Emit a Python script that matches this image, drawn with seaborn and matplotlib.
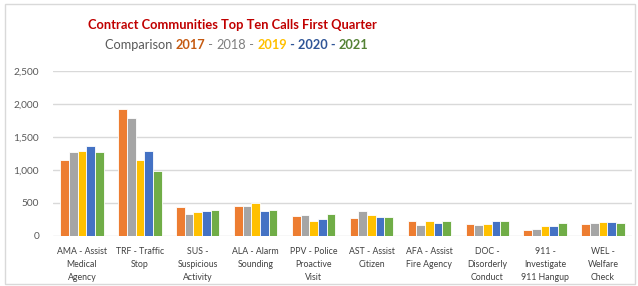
import pandas as pd
import seaborn as sns
import matplotlib.pyplot as plt
from matplotlib.patches import Rectangle

# calls per category
categories = ["AMA - Assist\nMedical\nAgency", "TRF - Traffic\nStop", "SUS -\nSuspicious\nActivity",
              "ALA - Alarm\nSounding", "PPV - Police\nProactive\nVisit", "AST - Assist\nCitizen",
              "AFA - Assist\nFire Agency", "DOC -\nDisorderly\nConduct", "911 -\nInvestigate\n911 Hangup",
              "WEL -\nWelfare\nCheck"]
years = ["2017", "2018", "2019", "2020", "2021"]
v2017 = [1141, 1919, 429, 444, 296, 273, 222, 177, 91, 177]
v2018 = [1263, 1778, 332, 454, 316, 374, 167, 157, 101, 192]
v2019 = [1283, 1141, 352, 490, 219, 318, 222, 177, 141, 207]
v2020 = [1359, 1278, 372, 367, 260, 283, 187, 217, 152, 202]
v2021 = [1263, 975, 388, 388, 327, 283, 222, 217, 197, 187]
colors = ["#ED7D31", "#A5A5A5", "#FFC000", "#4472C4", "#70AD47"]

rows = []
for yr, vals in zip(years, [v2017, v2018, v2019, v2020, v2021]):
    for c, v in zip(categories, vals):
        rows.append({"cat": c, "year": yr, "calls": v})
df = pd.DataFrame(rows)

sns.set_style("white")
plt.rcParams["font.family"] = ["Lato", "DejaVu Sans"]

fig = plt.figure(figsize=(6.38, 2.86), dpi=100)
ax = fig.add_axes([53 / 638, 1 - 235.7 / 286, 579 / 638, 165 / 286])

sns.barplot(data=df, x="cat", y="calls", hue="year", palette=colors, width=0.75, saturation=1,
            edgecolor="white", linewidth=0.6, ax=ax, legend=False)

ax.set_ylim(0, 2500)
ax.set_yticks([0, 500, 1000, 1500, 2000, 2500])
ax.set_yticklabels(["0", "500", "1,000", "1,500", "2,000", "2,500"])
ax.set_xlim(-0.5, 9.5)
ax.grid(axis="y", color="#D9D9D9", linewidth=1)
ax.set_axisbelow(True)
for s in ax.spines.values():
    s.set_visible(False)
ax.set_xlabel("")
ax.set_ylabel("")
ax.tick_params(axis="y", length=0, pad=10, labelsize=7.3, labelcolor="#595959")
ax.tick_params(axis="x", length=0, pad=8, labelsize=6.3, labelcolor="#404040")
for lab in ax.get_xticklabels():
    lab.set_linespacing(1.6)
    lab.set_verticalalignment("top")

# light frame round the whole chart
fig.patches.append(Rectangle((5 / 638, 2 / 286), 630 / 638, 280 / 286, transform=fig.transFigure,
                             fill=False, edgecolor="#D9D9D9", linewidth=1))

fig.text(232 / 638, 1 - 25 / 286, "Contract Communities Top Ten Calls First Quarter",
         ha="center", va="center", fontsize=9.3, fontweight="bold", color="#C00000")

# second title line built piece by piece
parts = [("Comparison ", "#595959", "normal"), ("2017", "#C55A11", "bold"), (" - ", "#7F7F7F", "normal"),
         ("2018", "#7F7F7F", "normal"), (" - ", "#7F7F7F", "normal"), ("2019", "#FFC000", "bold"),
         (" - 2020 - ", "#2F5597", "bold"), ("2021", "#548235", "bold")]
t = fig.text(105 / 638, 1 - 45 / 286, parts[0][0], ha="left", va="center", fontsize=9.2,
             color=parts[0][1], fontweight=parts[0][2])
for s, c, w in parts[1:]:
    t = ax.annotate(s, xycoords=t, xy=(1, 0), va="bottom", ha="left", fontsize=9.2,
                    color=c, fontweight=w, annotation_clip=False)

fig.savefig("out.png", dpi=100)
